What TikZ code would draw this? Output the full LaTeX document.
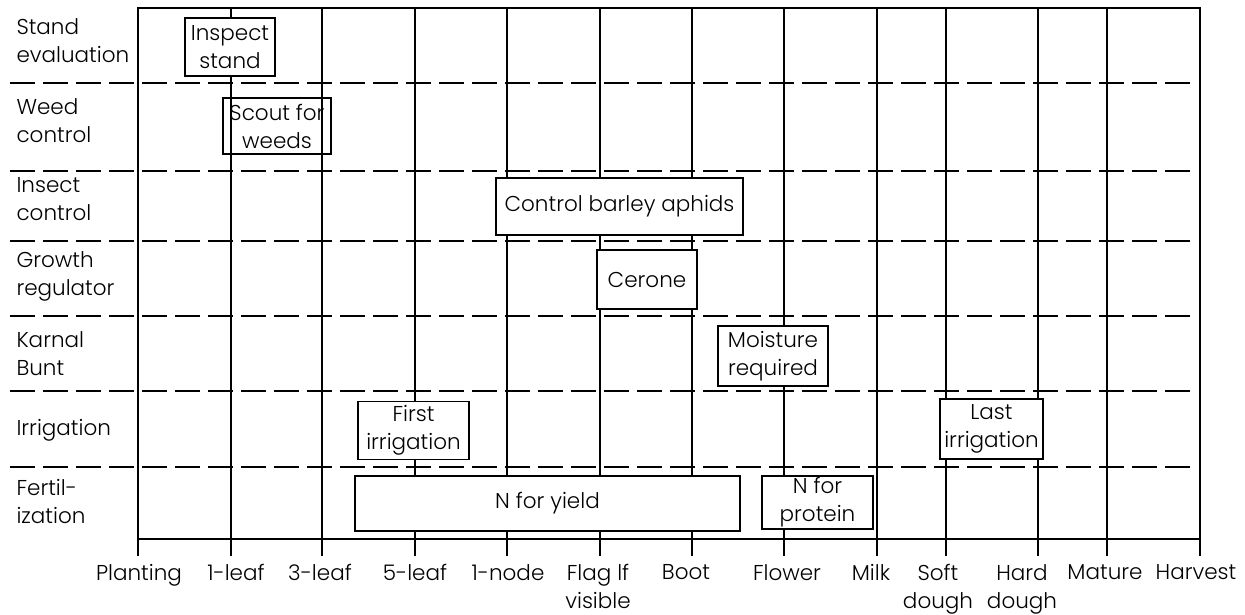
\documentclass[tikz,border=0pt]{standalone}
\usepackage{fontspec}
\setmainfont{Poppins Light}
\usetikzlibrary{positioning}

\tikzset{
  grid line/.style={line width=1.3pt},
  frame line/.style={line width=1.8pt},
  row line/.style={line width=1.3pt, dash pattern=on 25pt off 8pt},
  task/.style={draw, line width=1.3pt, fill=white, align=center, inner sep=0pt},
  row label/.style={anchor=west, align=left},
  stage label/.style={anchor=north, align=center},
}

\begin{document}
\begin{tikzpicture}[x=1pt, y=-1pt, font=\fontsize{21.5}{28}\selectfont]
\useasboundingbox (0,0) rectangle (1245,615);

% row dividers
\foreach \y [count=\i] in {83,171,241,316,391,467}{
  \coordinate (rowL\i) at (10,\y);
  \coordinate (rowR\i) at (1195,\y);
  \draw[row line] (rowL\i) -- (rowR\i);
}

% growth stages with ticks
\foreach \x/\lx/\txt [count=\i] in {138/139/Planting, 231/236/1-leaf,
    322/320/3-leaf, 415/415/5-leaf, 507/508/1-node, 600/598/Flag lf\\visible,
    692/686/Boot, 784/787/Flower, 877/871/Milk, 946/938/Soft\\dough,
    1038/1022/Hard\\dough, 1107/1105/Mature, 1200/1196/Harvest}{
  \coordinate (top\i) at (\x,8);
  \coordinate (tick\i) at (\x,556);
  \draw[grid line] (top\i) -- (tick\i);
  \node[stage label] (stage\i) at (\lx,561) {\txt};
}

% frame
\coordinate (frameNW) at (138,8);
\coordinate (frameSE) at (1200,539);
\draw[frame line] (frameNW) rectangle (frameSE);

% row labels
\node[row label] (stand) at (13,41) {Stand\\evaluation};
\node[row label] (weed) at (13,121) {Weed\\control};
\node[row label] (insect) at (13,199) {Insect\\control};
\node[row label] (growth) at (13,276) {Growth\\regulator};
\node[row label] (karnal) at (13,354) {Karnal\\Bunt};
\node[row label] (irrig) at (13,430) {Irrigation};
\node[row label] (fert) at (13,501) {Fertil-\\ization};

% tasks
\node[task, minimum width=90pt, minimum height=58pt] (inspect) at (230,47) {Inspect\\stand};
\node[task, fill=none, minimum width=108pt, minimum height=56pt] (scout) at (277,126) {Scout for\\weeds};
\node[task, minimum width=247pt, minimum height=57pt] (aphids) at (619.5,206.5) {Control barley aphids};
\node[task, minimum width=100pt, minimum height=59pt] (cerone) at (647,279.5) {Cerone};
\node[task, minimum width=110pt, minimum height=60pt] (moisture) at (773,356) {Moisture\\required};
\node[task, minimum width=111pt, minimum height=58pt] (firstirr) at (413.5,430.5) {First\\irrigation};
\node[task, minimum width=111pt, minimum height=53pt] (nprotein) at (817.5,502.5) {N for\\protein};
\node[task, minimum width=385pt, minimum height=55pt] (nyield) at (547.5,503.5) {N for yield};
\node[task, minimum width=103pt, minimum height=60pt] (lastirr) at (991.5,429) {Last\\irrigation};
\end{tikzpicture}
\end{document}
